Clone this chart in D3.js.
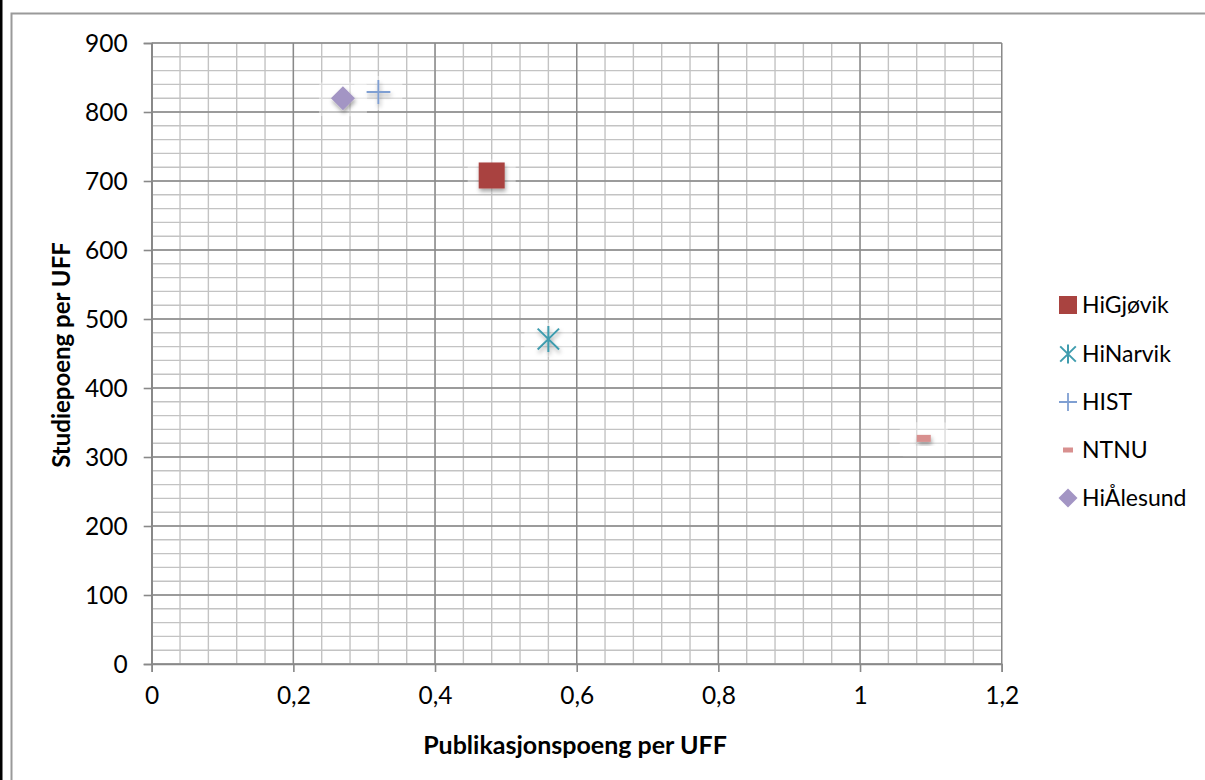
<!DOCTYPE html>
<html><head><meta charset="utf-8">
<script src="https://cdn.jsdelivr.net/npm/d3@7"></script>
<style>body{margin:0;background:#fff;} svg{display:block;font-family:Lato,"Open Sans",sans-serif;}</style>
</head><body>
<svg id="c" width="1205" height="780"></svg>
<script>
const seriesNames = ["HiGjøvik","HiNarvik","HIST","NTNU","HiÅlesund"];
const xValues = [0.48, 0.56, 0.32, 1.09, 0.27];
const yValues = [708, 471, 829, 327, 820];
const xTicks = [0,0.2,0.4,0.6,0.8,1,1.2];
const yTicks = [0,100,200,300,400,500,600,700,800,900];
const colors = ["#a94340","#3f9cae","#7f9fd2","#d8908f","#a395c4"];
const shapes = ["square","asterisk","plus","dash","diamond"];
const xTitle = "Publikasjonspoeng per UFF";
const yTitle = "Studiepoeng per UFF";

const svg = d3.select("#c");
const defs = svg.append("defs");
const f = defs.append("filter").attr("id","sh").attr("x","-50%").attr("y","-50%").attr("width","200%").attr("height","200%");
f.append("feDropShadow").attr("dx",1).attr("dy",3).attr("stdDeviation",2).attr("flood-color","#000").attr("flood-opacity",0.35);

// outer frames
svg.append("rect").attr("x",1).attr("y",-10).attr("width",1300).attr("height",900).attr("fill","none").attr("stroke","#000").attr("stroke-width",3);
svg.append("rect").attr("x",11.5).attr("y",13.5).attr("width",1300).attr("height",900).attr("fill","none").attr("stroke","#9a9a9a").attr("stroke-width",2);

const x = d3.scaleLinear().domain([0,1.2]).range([151.7,1001.7]);
const y = d3.scaleLinear().domain([0,900]).range([664,43]);

const g = svg.append("g");
// minor grid
const xMinor = d3.range(0,1.2001,0.04);
const yMinor = d3.range(0,900.1,20);
g.selectAll(".vm").data(xMinor).join("line")
  .attr("x1",d=>x(d)).attr("x2",d=>x(d)).attr("y1",y(0)).attr("y2",y(900))
  .attr("stroke","#c3c3c3").attr("stroke-width",1.4);
g.selectAll(".hm").data(yMinor).join("line")
  .attr("x1",x(0)).attr("x2",x(1.2)).attr("y1",d=>y(d)).attr("y2",d=>y(d))
  .attr("stroke","#c3c3c3").attr("stroke-width",1.4);
// major grid
g.selectAll(".vM").data(xTicks).join("line")
  .attr("x1",d=>x(d)).attr("x2",d=>x(d)).attr("y1",y(0)).attr("y2",y(900))
  .attr("stroke","#898989").attr("stroke-width",1.4);
g.selectAll(".hM").data(yTicks).join("line")
  .attr("x1",x(0)).attr("x2",x(1.2)).attr("y1",d=>y(d)).attr("y2",d=>y(d))
  .attr("stroke","#898989").attr("stroke-width",1.4);

// axes
const fmt = d => String(d).replace(".",",");
const xa = svg.append("g").attr("transform",`translate(0,${y(0)})`)
  .call(d3.axisBottom(x).tickValues(xTicks).tickFormat(fmt).tickSize(8).tickPadding(15));
const ya = svg.append("g").attr("transform",`translate(${x(0)},0)`)
  .call(d3.axisLeft(y).tickValues(yTicks).tickFormat(fmt).tickSize(8).tickPadding(16));
[xa,ya].forEach(a=>{
  a.select(".domain").attr("stroke","#898989").attr("stroke-width",1.6);
  a.selectAll(".tick line").attr("stroke","#898989").attr("stroke-width",1.6);
  a.selectAll("text").attr("fill","#000").attr("font-size",24.5).attr("font-family","Lato,'Open Sans',sans-serif");
});
ya.selectAll("text").attr("dy","0.35em");

svg.append("text").attr("x",575).attr("y",754).attr("text-anchor","middle")
  .attr("font-size",25).attr("font-weight","bold").text(xTitle);
svg.append("text").attr("transform","translate(70,355) rotate(-90)").attr("text-anchor","middle")
  .attr("font-size",24).attr("font-weight","bold").text(yTitle);

function drawMarker(sel, shape, color, s){
  if(shape==="square"){
    sel.append("rect").attr("x",-s/2).attr("y",-s/2).attr("width",s).attr("height",s).attr("fill",color);
  } else if(shape==="diamond"){
    const r=s/2;
    sel.append("path").attr("d",`M0,${-r}L${r},0L0,${r}L${-r},0Z`).attr("fill",color);
  } else if(shape==="plus"){
    const r=s/2;
    sel.append("path").attr("d",`M${-r},0H${r}M0,${-r}V${r}`).attr("stroke",color).attr("stroke-width",1.8).attr("fill","none");
  } else if(shape==="asterisk"){
    const r=s/2, dx=r*Math.cos(Math.PI/6)*0.95;
    sel.append("path").attr("d",`M${-dx},${-r*0.8}L${dx},${r*0.8}M${-dx},${r*0.8}L${dx},${-r*0.8}M0,${-r}V${r}`)
      .attr("stroke",color).attr("stroke-width",2).attr("fill","none");
  } else if(shape==="dash"){
    sel.append("rect").attr("x",-s/2).attr("y",-s/4).attr("width",s).attr("height",s/2).attr("fill",color);
  }
}

const chartSizes = [26,26,24,14,24];
const pts = svg.append("g");
seriesNames.forEach((n,i)=>{
  const cx = x(xValues[i]), cy = y(yValues[i]);
  // faint glow behind marker
  pts.append("rect").attr("x",cx-24).attr("y",cy-16).attr("width",48).attr("height",34)
    .attr("fill","#fff").attr("opacity",0.4).attr("rx",4);
  const m = pts.append("g").attr("transform",`translate(${cx},${cy})`).attr("filter","url(#sh)");
  drawMarker(m, shapes[i], colors[i], chartSizes[i]);
});

// legend
const legendY = [305,354,402,450,498];
const legendSizes = [18,19,18,10,19];
const lg = svg.append("g");
seriesNames.forEach((n,i)=>{
  const m = lg.append("g").attr("transform",`translate(1068,${legendY[i]})`);
  drawMarker(m, shapes[i], colors[i], legendSizes[i]);
  lg.append("text").attr("x",1082).attr("y",legendY[i]).attr("dy","0.35em")
    .attr("font-size",23).text(n);
});
</script>
</body></html>
